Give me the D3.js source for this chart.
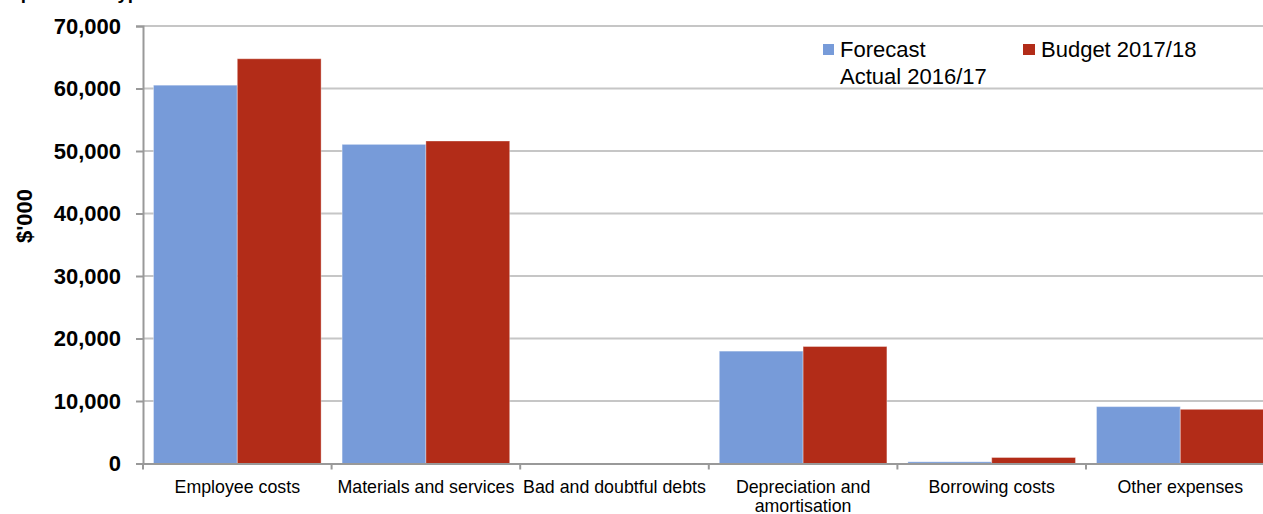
<!DOCTYPE html>
<html>
<head>
<meta charset="utf-8">
<script src="https://cdn.jsdelivr.net/npm/d3@7"></script>
<style>
  html, body { margin: 0; padding: 0; background: #fff; overflow: hidden; }
  svg { display: block; font-family: "Liberation Sans", Arial, sans-serif; }
</style>
</head>
<body>
<svg id="chart" width="1263" height="514"></svg>
<script>
// Expense categories and values ($'000)
const categories = [
  ["Employee costs"],
  ["Materials and services"],
  ["Bad and doubtful debts"],
  ["Depreciation and", "amortisation"],
  ["Borrowing costs"],
  ["Other expenses"]
];
const forecastActual = [60530, 51060, 0, 17980, 270, 9100];
const budget = [64760, 51600, 0, 18720, 960, 8670];
const seriesNames = ["Forecast Actual 2016/17", "Budget 2017/18"];
const yTicks = [0, 10000, 20000, 30000, 40000, 50000, 60000, 70000];
const colors = ["#779BD9", "#B22C18"];

const svg = d3.select("#chart");
const plotLeft = 143, plotZero = 463.5, plotTop = 26, step = 188.6;
const catKeys = categories.map(c => c.join(" "));

const x0 = d3.scaleBand().domain(catKeys).range([plotLeft, plotLeft + step * catKeys.length]).padding(0);
const gap = 21;
const x1 = d3.scaleBand().domain(seriesNames).range([gap / 2, x0.bandwidth() - gap / 2]).padding(0);
const y = d3.scaleLinear().domain([0, 70000]).range([plotZero, plotTop]);

// Title (sits at the very top edge)
svg.append("text")
  .attr("x", -2).attr("y", -1)
  .attr("font-size", 18.7).attr("font-weight", "bold")
  .text("Expenditure type");

// Gridlines
svg.append("g").selectAll("line").data(yTicks.filter(d => d > 0)).join("line")
  .attr("x1", plotLeft).attr("x2", 1263)
  .attr("y1", d => y(d)).attr("y2", d => y(d))
  .attr("stroke", "#c6c6c6").attr("stroke-width", 2);

// Bars
const groups = svg.append("g").selectAll("g").data(catKeys).join("g")
  .attr("transform", d => `translate(${x0(d)},0)`);
groups.selectAll("rect")
  .data((d, i) => [forecastActual[i], budget[i]].map((v, j) => ({ v, s: seriesNames[j], j })))
  .join("rect")
  .attr("x", d => x1(d.s))
  .attr("width", x1.bandwidth())
  .attr("y", d => y(d.v))
  .attr("height", d => plotZero - y(d.v))
  .attr("fill", d => colors[d.j])
  .attr("stroke", "rgba(255,255,255,0.35)")
  .attr("stroke-width", 1);

// Y axis
const yAxis = d3.axisLeft(y).tickValues(yTicks).tickSize(7).tickPadding(15)
  .tickFormat(d3.format(","));
const yg = svg.append("g").attr("transform", `translate(${plotLeft},0)`).call(yAxis);
yg.select(".domain").attr("stroke", "#999").attr("stroke-width", 2);
yg.selectAll(".tick line").attr("stroke", "#999").attr("stroke-width", 2);
yg.selectAll(".tick text")
  .attr("font-family", "'Liberation Sans', Arial, sans-serif")
  .attr("font-size", 22).attr("font-weight", "bold").attr("fill", "#000");

// X axis
const xAxis = d3.axisBottom(x0).tickSize(0).tickFormat(() => "");
const xg = svg.append("g").attr("transform", `translate(0,${plotZero})`).call(xAxis);
xg.select(".domain").attr("stroke", "#999").attr("stroke-width", 2);
// boundary ticks between categories
xg.selectAll(".bound").data(d3.range(catKeys.length + 1)).join("line")
  .attr("class", "bound")
  .attr("x1", i => plotLeft + i * x0.step()).attr("x2", i => plotLeft + i * x0.step())
  .attr("y1", 0).attr("y2", 6)
  .attr("stroke", "#999").attr("stroke-width", 2);
// category labels
const lab = svg.append("g").selectAll("text").data(categories).join("text")
  .attr("x", (d, i) => x0(catKeys[i]) + x0.bandwidth() / 2)
  .attr("y", 493)
  .attr("text-anchor", "middle")
  .attr("font-size", 17.8).attr("fill", "#000");
lab.selectAll("tspan").data(d => d).join("tspan")
  .attr("x", function () { return d3.select(this.parentNode).attr("x"); })
  .attr("dy", (d, i) => i === 0 ? 0 : 19)
  .text(d => d);

// Y axis title
svg.append("text")
  .attr("transform", "translate(32,216) rotate(-90)")
  .attr("text-anchor", "middle")
  .attr("font-size", 22).attr("font-weight", "bold")
  .text("$'000");

// Legend
const legend = svg.append("g");
legend.append("rect").attr("x", 823).attr("y", 44).attr("width", 11).attr("height", 11).attr("fill", colors[0]);
legend.append("text").attr("x", 840).attr("y", 57).attr("font-size", 22)
  .selectAll("tspan").data(["Forecast", "Actual 2016/17"]).join("tspan")
  .attr("x", 840).attr("dy", (d, i) => i === 0 ? 0 : 27).text(d => d);
legend.append("rect").attr("x", 1023).attr("y", 44).attr("width", 12).attr("height", 11).attr("fill", colors[1]);
legend.append("text").attr("x", 1041).attr("y", 57).attr("font-size", 22).text("Budget 2017/18");
</script>
</body>
</html>
